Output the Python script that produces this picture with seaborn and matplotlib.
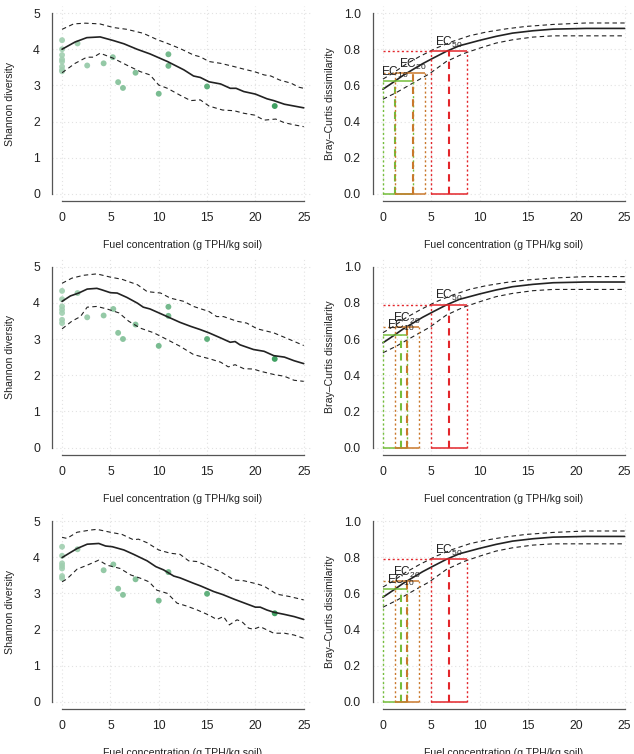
"""Shannon diversity and Bray-Curtis dose-response panels for three fuel models."""

import matplotlib

matplotlib.use("Agg")
import matplotlib.pyplot as plt
from matplotlib.ticker import FormatStrFormatter
import seaborn as sns


# Shannon diversity, row 1
ROW1_FIT_X = [0, 1.35, 2.56, 3.94, 5.3, 6.4, 7.75, 9.1, 10.9, 12.6, 13.6, 14.3, 15.2, 16.4,
              17.4, 18.0, 18.8, 20.0, 21.2, 21.9, 23.0, 24.0, 25.0]
ROW1_FIT_Y = [4.0, 4.2, 4.32, 4.34, 4.24, 4.15, 4.0, 3.87, 3.66, 3.43, 3.26, 3.22, 3.1, 3.04,
              2.92, 2.92, 2.83, 2.76, 2.63, 2.58, 2.48, 2.43, 2.38]
ROW1_UP_X = [0, 1.2, 2.4, 3.9, 5.3, 6.7, 8.4, 9.8, 10.9, 12.2, 13.6, 14.3, 15.2, 16.4, 17.8,
             18.8, 19.9, 20.9, 21.6, 22.5, 23.7, 24.5, 25.0]
ROW1_UP_Y = [4.55, 4.7, 4.72, 4.7, 4.6, 4.55, 4.44, 4.27, 4.16, 4.02, 3.84, 3.79, 3.66, 3.61,
             3.52, 3.45, 3.38, 3.29, 3.26, 3.15, 3.06, 2.95, 2.92]
ROW1_LO_X = [0, 1.35, 2.56, 3.25, 3.94, 5.3, 6.7, 8.1, 9.1, 10.0, 10.9, 12.2, 13.3, 14.3, 15.2,
             16.6, 17.8, 18.8, 19.9, 20.9, 22.1, 23.0, 24.0, 25.0]
ROW1_LO_Y = [3.35, 3.61, 3.78, 3.78, 3.89, 3.75, 3.56, 3.38, 3.29, 3.01, 2.92, 2.73, 2.58, 2.6,
             2.43, 2.32, 2.3, 2.23, 2.18, 2.04, 2.07, 1.97, 1.91, 1.86]
ROW1_PTS_X = [0, 0, 0, 0, 0, 0, 0, 0, 1.6, 2.6, 4.3, 5.25, 5.8, 6.3, 7.6, 10, 11, 11, 15, 22]
ROW1_PTS_Y = [4.25, 4.0, 3.84, 3.72, 3.66, 3.52, 3.43, 3.39, 4.16, 3.55, 3.61, 3.78, 3.09,
              2.93, 3.35, 2.77, 3.86, 3.54, 2.97, 2.43]

# Shannon diversity, row 2
ROW2_FIT_X = [0, 0.86, 1.72, 2.6, 3.6, 4.1, 5.0, 5.7, 6.7, 7.8, 8.4, 9.1, 10.2, 11.2, 12.2,
              13.3, 14.3, 15.2, 16.4, 17.4, 17.9, 18.4, 19.8, 20.9, 21.9, 23.0, 24.0, 25.0]
ROW2_FIT_Y = [4.04, 4.19, 4.27, 4.38, 4.4, 4.36, 4.28, 4.27, 4.15, 3.99, 3.88, 3.83, 3.7, 3.58,
              3.46, 3.35, 3.26, 3.17, 3.03, 2.91, 2.93, 2.84, 2.71, 2.66, 2.54, 2.5, 2.4, 2.32]
ROW2_UP_X = [0, 1.0, 2.2, 3.6, 5.0, 6.2, 7.8, 8.8, 10.2, 11.2, 12.6, 13.6, 15.2, 16.0, 16.7,
             18.1, 19.1, 20.2, 21.9, 23.6, 25.0]
ROW2_UP_Y = [4.54, 4.68, 4.76, 4.8, 4.71, 4.65, 4.5, 4.31, 4.27, 4.13, 4.04, 3.9, 3.76, 3.62,
             3.62, 3.49, 3.44, 3.28, 3.17, 2.98, 2.82]
ROW2_LO_X = [0, 1.0, 1.9, 2.6, 3.6, 4.65, 5.9, 6.9, 8.1, 9.5, 10.9, 12.2, 13.6, 15.3, 16.4,
             17.2, 17.9, 18.8, 19.8, 20.5, 21.9, 23.0, 24.0, 25.0]
ROW2_LO_Y = [3.28, 3.49, 3.62, 3.88, 3.9, 3.83, 3.72, 3.49, 3.3, 3.17, 2.98, 2.8, 2.57, 2.45,
             2.36, 2.23, 2.29, 2.18, 2.17, 2.11, 2.02, 1.97, 1.86, 1.83]
ROW2_PTS_X = [0, 0, 0, 0, 0, 0, 0, 1.6, 2.6, 4.3, 5.3, 5.8, 6.3, 7.6, 10, 11, 11, 15, 22]
ROW2_PTS_Y = [4.33, 4.1, 3.9, 3.81, 3.72, 3.53, 3.44, 4.27, 3.6, 3.65, 3.83, 3.17, 3.0, 3.4,
              2.81, 3.89, 3.64, 3.0, 2.45]

# Shannon diversity, row 3
ROW3_FIT_X = [0, 0.86, 1.55, 2.6, 3.8, 4.5, 5.2, 6.4, 7.4, 8.8, 9.7, 10.5, 11.55, 12.2, 13.6,
              14.3, 15.7, 16.6, 17.8, 19.1, 20.0, 20.5, 21.2, 21.9, 23.0, 24.0, 25.0]
ROW3_FIT_Y = [3.99, 4.13, 4.24, 4.36, 4.38, 4.31, 4.29, 4.2, 4.08, 3.9, 3.74, 3.65, 3.48, 3.43,
              3.28, 3.21, 3.05, 2.97, 2.84, 2.71, 2.62, 2.62, 2.54, 2.48, 2.42, 2.36, 2.28]
ROW3_UP_X = [0, 0.5, 1.55, 2.9, 3.6, 5.0, 6.2, 7.4, 7.9, 8.8, 10.0, 11.2, 12.2, 13.1, 14.0,
             15.2, 16.4, 17.8, 18.8, 20.2, 20.9, 22.2, 23.6, 25.0]
ROW3_UP_Y = [4.55, 4.52, 4.69, 4.75, 4.77, 4.69, 4.63, 4.48, 4.5, 4.4, 4.2, 4.11, 4.08, 3.9,
             3.88, 3.74, 3.6, 3.37, 3.35, 3.26, 3.2, 2.98, 2.91, 2.82]
ROW3_LO_X = [0, 0.5, 1.55, 2.6, 3.8, 4.65, 6.0, 7.1, 8.1, 9.0, 9.8, 10.9, 11.9, 12.9, 14.0,
             15.2, 16.0, 16.7, 17.3, 18.1, 18.6, 19.3, 19.8, 20.5, 21.2, 21.9, 23.0, 24.0, 25.0]
ROW3_LO_Y = [3.32, 3.4, 3.67, 3.78, 3.92, 3.78, 3.69, 3.51, 3.42, 3.32, 3.09, 3.0, 2.73, 2.65,
             2.54, 2.4, 2.28, 2.36, 2.13, 2.27, 2.22, 2.04, 2.01, 2.08, 1.99, 1.9, 1.9, 1.85, 1.76]
ROW3_PTS_X = [0, 0, 0, 0, 0, 0, 0, 1.6, 4.3, 5.3, 5.8, 6.3, 7.6, 10, 11, 15, 22]
ROW3_PTS_Y = [4.29, 4.04, 3.83, 3.76, 3.69, 3.48, 3.42, 4.22, 3.64, 3.8, 3.13, 2.96, 3.39,
              2.8, 3.59, 2.99, 2.45]

# Bray-Curtis dose-response curve (same in every row)
BC_FIT_X = [0, 1.03, 2.07, 3.1, 4.1, 5.2, 6.55, 7.9, 10, 11.7, 13.4, 15.5, 17.6, 21, 25]
BC_FIT_Y = [0.579, 0.616, 0.655, 0.688, 0.72, 0.751, 0.788, 0.819, 0.849, 0.871, 0.889,
            0.902, 0.911, 0.915, 0.915]
BC_UP_X = [0, 1.03, 2.4, 3.8, 5.5, 7.2, 9, 10.7, 12.8, 14.8, 17.6, 21, 25]
BC_UP_Y = [0.635, 0.668, 0.718, 0.76, 0.806, 0.843, 0.875, 0.895, 0.913, 0.926, 0.937,
           0.945, 0.945]
BC_LO_X = [0, 1.4, 3.1, 4.8, 6.55, 8.3, 10, 11.7, 13.4, 15.5, 17.6, 25]
BC_LO_Y = [0.524, 0.561, 0.613, 0.664, 0.732, 0.775, 0.806, 0.834, 0.852, 0.867, 0.874, 0.874]

# effect concentrations: EC10, EC20, EC50
EC_NAMES = ["10", "20", "50"]
EC_COLORS = ["#74bd3a", "#c9782c", "#e3262b"]
ROW1_EC_EST = [1.24, 3.14, 6.83]
ROW1_EC_LO = [0.05, 1.24, 4.93]
ROW1_EC_HI = [3.14, 4.34, 8.72]
ROW1_EC_LEVEL = [0.622, 0.668, 0.79]
ROW2_EC_EST = [1.83, 2.48, 6.83]
ROW2_EC_LO = [0.05, 1.24, 4.93]
ROW2_EC_HI = [2.48, 3.74, 8.72]
ROW2_EC_LEVEL = [0.624, 0.666, 0.79]
ROW3_EC_EST = [1.83, 2.48, 6.83]
ROW3_EC_LO = [0.05, 1.24, 4.93]
ROW3_EC_HI = [2.48, 3.74, 8.72]
ROW3_EC_LEVEL = [0.622, 0.668, 0.79]

X_TICKS = [0, 5, 10, 15, 20, 25]
X_LABEL = "Fuel concentration (g TPH/kg soil)"

FIG_W, FIG_H, DPI = 634, 754, 100
ROW_TOPS = [5.8, 259.4, 513.8]
ROW_H = 195.4
COL_LEFT = [52.4, 373.3]
COL_W = 261.0

POINT_CMAP = sns.light_palette("#2b9651", as_cmap=True)
AXIS_GREY = "#555555"
TEXT_COLOR = "#222222"


def axes_rect(left, top):
    return [left / FIG_W, 1 - (top + ROW_H) / FIG_H, COL_W / FIG_W, ROW_H / FIG_H]


def style_axes(ax, ylim, yticks, ylabel, yfmt):
    ax.set_xlim(-1, 26)
    ax.set_ylim(*ylim)
    ax.set_xticks(X_TICKS)
    ax.set_yticks(yticks)
    ax.yaxis.set_major_formatter(FormatStrFormatter(yfmt))
    ax.grid(True, linestyle=(0, (1, 2.5)), color="#e2e2e2", linewidth=0.8)
    ax.set_axisbelow(True)
    for side in ("top", "right"):
        ax.spines[side].set_visible(False)
    for side in ("left", "bottom"):
        ax.spines[side].set_color(AXIS_GREY)
        ax.spines[side].set_linewidth(0.9)
    ax.spines["bottom"].set_bounds(X_TICKS[0], X_TICKS[-1])
    ax.spines["left"].set_bounds(yticks[0], yticks[-1])
    ax.tick_params(axis="both", direction="out", length=5, width=0.9, color=AXIS_GREY,
                   labelsize=8.8, labelcolor=TEXT_COLOR)
    ax.tick_params(axis="x", pad=3.0)
    ax.tick_params(axis="y", pad=4.0)
    ax.set_xlabel(X_LABEL, fontsize=7.6, color=TEXT_COLOR)
    ax.set_ylabel(ylabel, fontsize=7.6, color=TEXT_COLOR)
    ax.xaxis.set_label_coords(0.5, -0.2)
    ax.yaxis.set_label_coords(-0.145, 0.5)


def dashed_line(ax, xs, ys, width):
    sns.lineplot(x=xs, y=ys, ax=ax, color=TEXT_COLOR, linewidth=width,
                 estimator=None, sort=False)
    ax.lines[-1].set_dashes((4, 3))


def draw_shannon(ax, fit, upper, lower, pts):
    dashed_line(ax, upper[0], upper[1], 0.8)
    dashed_line(ax, lower[0], lower[1], 0.8)
    sns.lineplot(x=fit[0], y=fit[1], ax=ax, color=TEXT_COLOR, linewidth=1.2,
                 estimator=None, sort=False)
    sns.scatterplot(x=pts[0], y=pts[1], hue=pts[0], palette=POINT_CMAP, hue_norm=(-14, 22),
                    s=18, linewidth=0, alpha=0.9, legend=False, ax=ax)
    style_axes(ax, (-0.2, 5.2), [0, 1, 2, 3, 4, 5], "Shannon diversity", "%d")


def draw_bray(ax, est, lo, hi, level):
    dashed_line(ax, BC_UP_X, BC_UP_Y, 0.8)
    dashed_line(ax, BC_LO_X, BC_LO_Y, 0.8)
    sns.lineplot(x=BC_FIT_X, y=BC_FIT_Y, ax=ax, color=TEXT_COLOR, linewidth=1.2,
                 estimator=None, sort=False)
    dotted = (0, (1.5, 1.8))
    for name, color, e, a, b, lvl in zip(EC_NAMES, EC_COLORS, est, lo, hi, level):
        ax.hlines(lvl, 0, a, colors=color, linestyles=dotted, linewidth=1.0)
        ax.vlines([a, b], 0, lvl, colors=color, linestyles=dotted, linewidth=1.0)
        ax.hlines([lvl, 0], a, b, colors=color, linewidth=1.1)
        ax.vlines(e, 0, lvl, colors=color, linestyles=(0, (3.5, 2.5)), linewidth=1.5)
        ax.annotate(f"EC$_{{{name}}}$", (e, lvl), xytext=(0, 1.0), textcoords="offset points",
                    ha="center", va="bottom", fontsize=8.6, color=TEXT_COLOR)
    style_axes(ax, (-0.04, 1.04), [0, 0.2, 0.4, 0.6, 0.8, 1.0], "Bray\u2013Curtis dissimilarity",
               "%.1f")


def main():
    sns.set_theme(style="white")
    plt.rcParams["font.family"] = ["Liberation Sans", "DejaVu Sans"]
    plt.rcParams["mathtext.fontset"] = "custom"
    plt.rcParams["mathtext.rm"] = "Liberation Sans"
    plt.rcParams["mathtext.it"] = "Liberation Sans:italic"
    plt.rcParams["mathtext.bf"] = "Liberation Sans:bold"

    fig = plt.figure(figsize=(FIG_W / DPI, FIG_H / DPI), dpi=DPI)
    fig.patch.set_facecolor("white")

    shannon_rows = [
        ((ROW1_FIT_X, ROW1_FIT_Y), (ROW1_UP_X, ROW1_UP_Y), (ROW1_LO_X, ROW1_LO_Y),
         (ROW1_PTS_X, ROW1_PTS_Y)),
        ((ROW2_FIT_X, ROW2_FIT_Y), (ROW2_UP_X, ROW2_UP_Y), (ROW2_LO_X, ROW2_LO_Y),
         (ROW2_PTS_X, ROW2_PTS_Y)),
        ((ROW3_FIT_X, ROW3_FIT_Y), (ROW3_UP_X, ROW3_UP_Y), (ROW3_LO_X, ROW3_LO_Y),
         (ROW3_PTS_X, ROW3_PTS_Y)),
    ]
    ec_rows = [
        (ROW1_EC_EST, ROW1_EC_LO, ROW1_EC_HI, ROW1_EC_LEVEL),
        (ROW2_EC_EST, ROW2_EC_LO, ROW2_EC_HI, ROW2_EC_LEVEL),
        (ROW3_EC_EST, ROW3_EC_LO, ROW3_EC_HI, ROW3_EC_LEVEL),
    ]

    for top, shannon, ec in zip(ROW_TOPS, shannon_rows, ec_rows):
        ax_left = fig.add_axes(axes_rect(COL_LEFT[0], top))
        draw_shannon(ax_left, *shannon)
        ax_right = fig.add_axes(axes_rect(COL_LEFT[1], top))
        draw_bray(ax_right, *ec)

    fig.savefig("out.png", dpi=DPI, facecolor="white")
    plt.close(fig)


if __name__ == "__main__":
    main()
